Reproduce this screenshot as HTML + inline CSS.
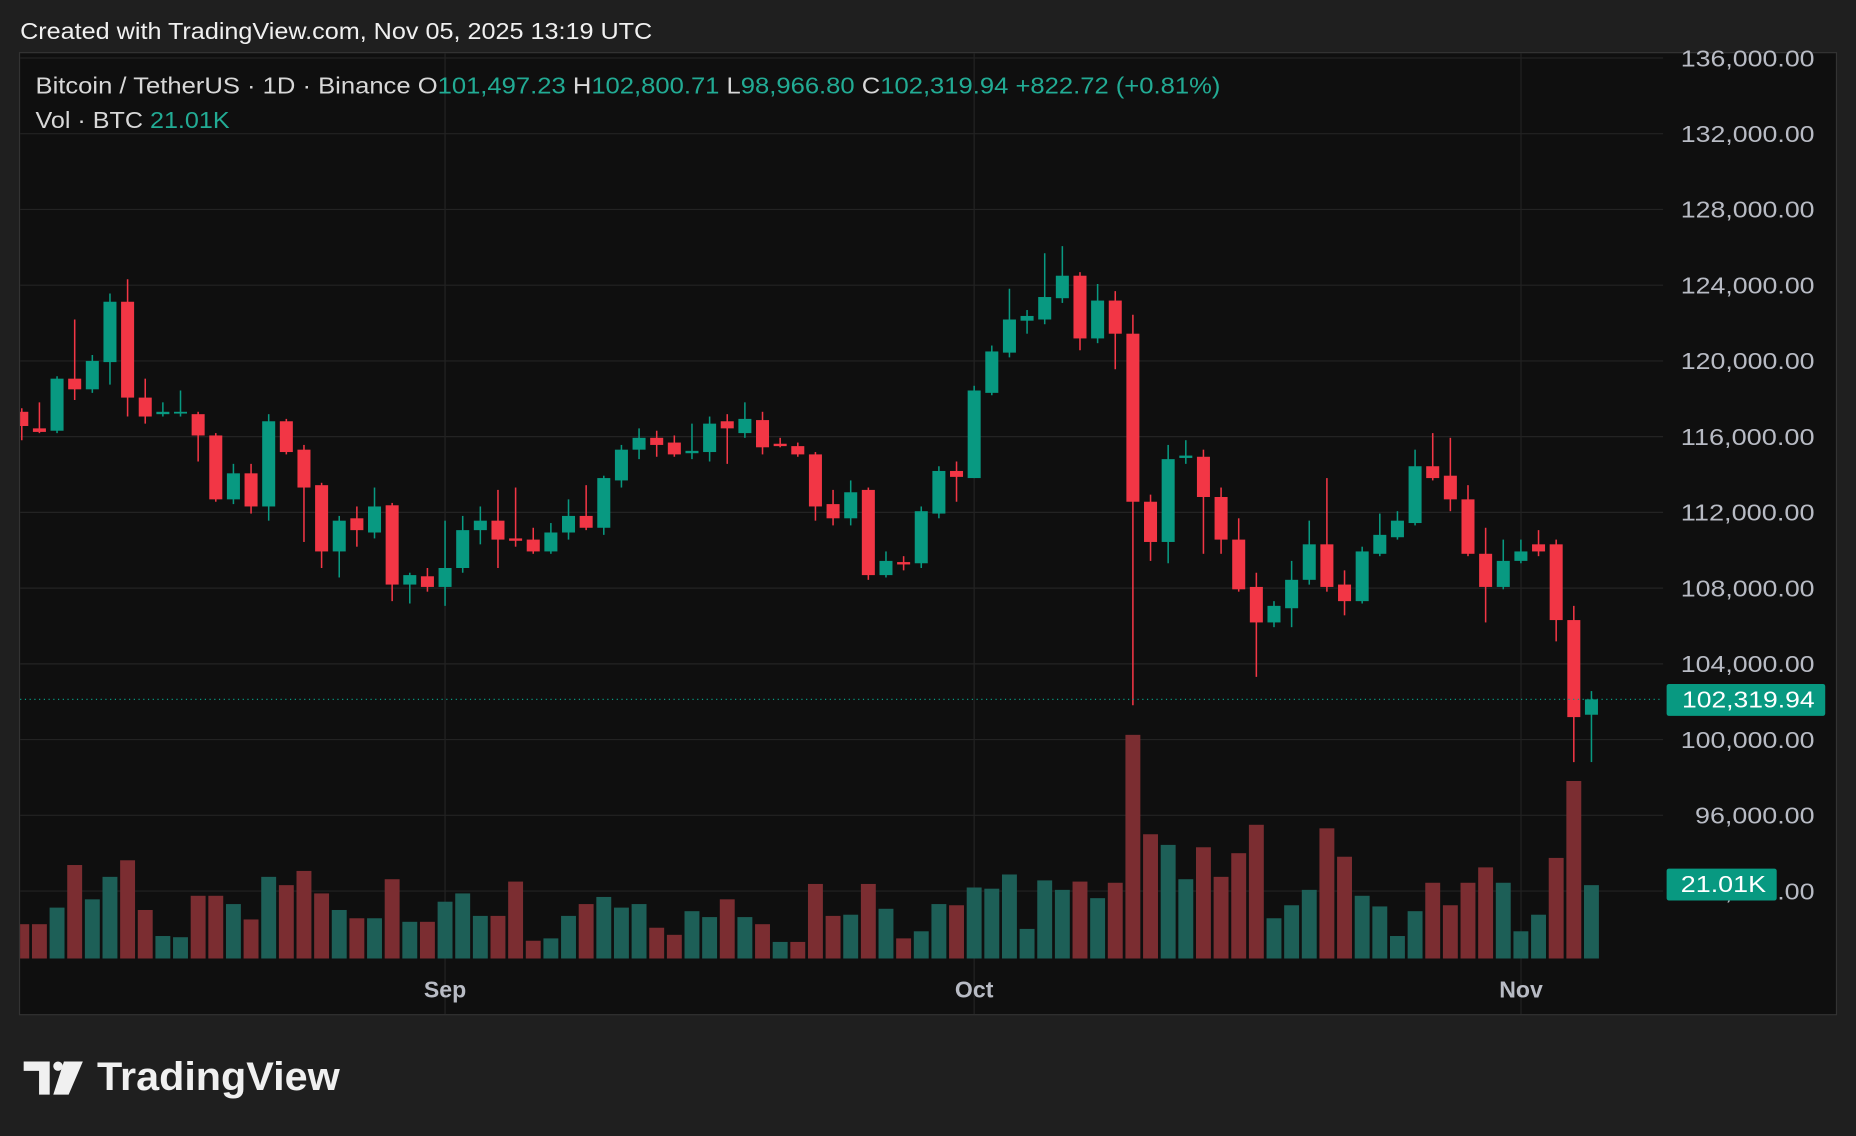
<!DOCTYPE html>
<html><head><meta charset="utf-8">
<style>
html,body{margin:0;padding:0;background:#1f1f1f;}
svg{display:block;}
text{font-family:"Liberation Sans",sans-serif;}
</style></head>
<body>
<svg id="s" width="1856" height="1136" viewBox="0 0 1568 960" preserveAspectRatio="none" xmlns="http://www.w3.org/2000/svg">
<defs><clipPath id="cp"><rect x="17" y="45" width="1388" height="812"/></clipPath></defs>
<rect x="0" y="0" width="1568" height="960" fill="#1f1f1f"/>
<text x="17" y="33" fill="#f0f0f0" font-size="19.5" textLength="534" lengthAdjust="spacingAndGlyphs">Created with TradingView.com, Nov 05, 2025 13:19 UTC</text>
<rect x="16.5" y="44.5" width="1535" height="813" fill="#0f0f0f" stroke="#333" stroke-width="1"/>
<g id="grid" stroke="#232323" stroke-width="1"></g>
<g clip-path="url(#cp)"><g id="vol"></g><g id="cand"></g></g>
<line x1="17" y1="591" x2="1405" y2="591" stroke="#089981" stroke-width="1" stroke-dasharray="1,3"/>
<g id="axis" fill="#b8bbc4" font-size="19.5"></g>
<rect x="1408" y="578" width="134" height="27" rx="2" fill="#089981"/>
<text x="1421" y="598" fill="#fff" font-size="19.5" textLength="112" lengthAdjust="spacingAndGlyphs">102,319.94</text>
<rect x="1408" y="734" width="93" height="27" rx="2" fill="#089981"/>
<text x="1420" y="754" fill="#fff" font-size="19.5" textLength="72" lengthAdjust="spacingAndGlyphs">21.01K</text>
<text x="376" y="843" fill="#b8bbc4" font-size="19.5" font-weight="bold" text-anchor="middle">Sep</text>
<text x="823" y="843" fill="#b8bbc4" font-size="19.5" font-weight="bold" text-anchor="middle">Oct</text>
<text x="1285" y="843" fill="#b8bbc4" font-size="19.5" font-weight="bold" text-anchor="middle">Nov</text>
<text x="30" y="79" font-size="19.5" textLength="1001" lengthAdjust="spacingAndGlyphs"><tspan fill="#d8d8d8">Bitcoin / TetherUS · 1D · Binance  O</tspan><tspan fill="#22ab94">101,497.23</tspan><tspan fill="#d8d8d8">  H</tspan><tspan fill="#22ab94">102,800.71</tspan><tspan fill="#d8d8d8">  L</tspan><tspan fill="#22ab94">98,966.80</tspan><tspan fill="#d8d8d8">  C</tspan><tspan fill="#22ab94">102,319.94  +822.72 (+0.81%)</tspan></text>
<text x="30" y="108" font-size="19.5" textLength="164" lengthAdjust="spacingAndGlyphs"><tspan fill="#d8d8d8">Vol · BTC  </tspan><tspan fill="#22ab94">21.01K</tspan></text>
<g transform="translate(20,895)">
<path d="M0 2 H22 V30 H13 V10 H0 Z" fill="#f0f0f0"/>
<circle cx="29" cy="6" r="4" fill="#f0f0f0"/>
<path d="M34 2 H50 L38 30 H25 Z" fill="#f0f0f0"/>
</g>
<text x="82" y="921" fill="#f0f0f0" font-size="34" font-weight="bold" textLength="205" lengthAdjust="spacingAndGlyphs">TradingView</text>
</svg>
<script>
var NS="http://www.w3.org/2000/svg";
function el(p,t,a,txt){var e=document.createElementNS(NS,t);for(var k in a)e.setAttribute(k,a[k]);if(txt)e.textContent=txt;document.getElementById(p).appendChild(e);return e;}
var prices=["136,000.00","132,000.00","128,000.00","124,000.00","120,000.00","116,000.00","112,000.00","108,000.00","104,000.00","100,000.00","96,000.00","92,000.00"];
for(var i=0;i<12;i++){var y=49+i*64;el("grid","line",{x1:17,y1:y,x2:1405,y2:y});
var L=prices[i].length==10?113:101;
el("axis","text",{x:1533,y:y+7,"text-anchor":"end",textLength:L,lengthAdjust:"spacingAndGlyphs"},prices[i]);}
[376,823,1285].forEach(function(x){el("grid","line",{x1:x,y1:45,x2:x,y2:857});});
var C=[[348,360,345,372],[362,365,340,366],[364,320,318,366],[320,329,270,338],[329,305,300,332],[306,255,248,325],[255,336,236,352],[336,352,320,358],[350,348,340,352],[349,348,330,352],[350,368,348,390],[368,422,366,424],[422,400,392,426],[400,428,392,434],[428,356,350,440],[356,382,354,384],[380,412,376,458],[410,466,408,480],[466,440,436,488],[438,448,428,462],[450,428,412,455],[427,494,425,508],[494,486,484,510],[487,496,480,500],[496,480,440,512],[480,448,436,484],[448,440,428,460],[440,456,414,480],[455,457,412,462],[456,466,446,468],[466,450,442,468],[450,436,422,456],[436,446,410,448],[446,404,402,452],[406,380,376,412],[380,370,362,388],[370,376,364,386],[374,384,368,386],[383,381,358,388],[382,358,352,390],[356,362,350,392],[366,354,340,370],[355,378,348,384],[375,377,370,378],[377,384,374,386],[384,428,382,440],[426,438,414,444],[438,416,406,444],[414,486,412,490],[486,474,466,488],[475,477,470,482],[476,432,428,480],[434,398,394,438],[398,403,390,424],[404,330,326,404],[332,297,292,334],[298,270,244,302],[271,267,262,282],[270,251,214,274],[252,233,208,256],[233,286,230,296],[286,254,240,290],[254,282,246,312],[282,424,266,596],[424,458,418,474],[458,388,376,476],[387,385,372,392],[386,420,380,468],[420,456,412,468],[456,498,438,500],[496,526,484,572],[526,512,508,530],[514,490,474,530],[490,460,440,494],[460,496,404,500],[494,508,482,520],[508,466,462,510],[468,452,434,470],[454,440,432,456],[442,394,380,444],[394,404,366,406],[402,422,370,432],[422,468,410,470],[468,496,446,526],[496,474,456,498],[474,466,456,476],[460,466,448,470],[460,524,456,542],[524,606,512,644],[604,591,584,644]];
var V=[[781,0],[781,0],[767,1],[731,0],[760,1],[741,1],[727,0],[769,0],[791,1],[792,1],[757,0],[757,0],[764,1],[777,0],[741,1],[748,0],[736,0],[755,0],[769,1],[776,0],[776,1],[743,0],[779,1],[779,0],[762,1],[755,1],[774,1],[774,0],[745,0],[795,0],[793,1],[774,1],[764,0],[758,1],[767,1],[764,1],[784,0],[790,0],[770,1],[775,1],[760,0],[775,1],[781,0],[796,1],[796,0],[747,0],[774,0],[773,1],[747,0],[768,1],[793,0],[787,1],[764,1],[765,0],[750,1],[751,1],[739,1],[785,1],[744,1],[752,1],[745,0],[759,1],[746,0],[621,0],[705,0],[714,1],[743,1],[716,0],[741,0],[721,0],[697,0],[776,1],[765,1],[752,1],[700,0],[724,0],[757,1],[766,1],[791,1],[770,1],[746,0],[765,0],[746,0],[733,0],[746,1],[787,1],[773,1],[725,0],[660,0],[748,1]];
for(var i=0;i<90;i++){var x=376+(i-24)*14.9;var c=C[i];var up=c[1]<c[0];var col=up?"#089981":"#f23645";
var v=V[i];el("vol","rect",{x:x-6.3,y:v[0],width:12.6,height:810-v[0],fill:v[1]?"#1d5f57":"#7b2d31"});
el("cand","line",{x1:x,y1:c[2],x2:x,y2:c[3],stroke:col,"stroke-width":1.3});
var t=Math.min(c[0],c[1]),h=Math.max(Math.abs(c[0]-c[1]),1.5);
el("cand","rect",{x:x-5.5,y:t,width:11,height:h,fill:col});}
</script>
</body></html>
